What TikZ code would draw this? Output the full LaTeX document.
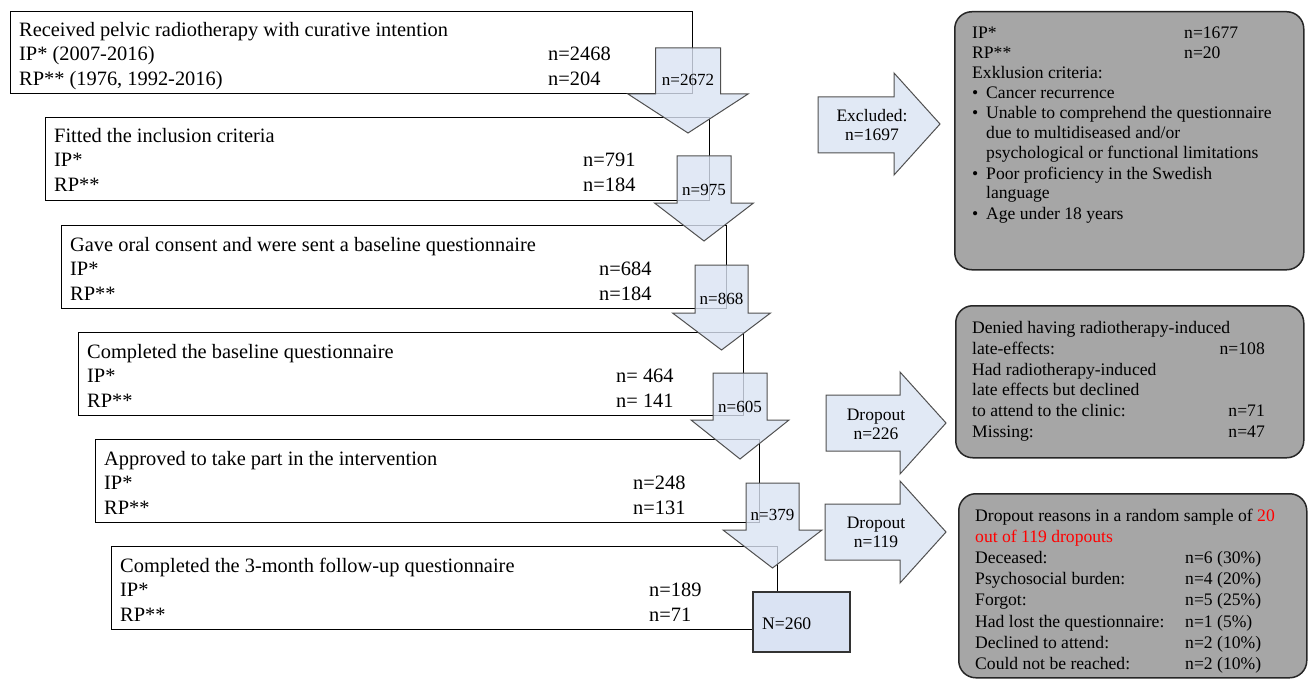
\documentclass[tikz,border=0pt]{standalone}
\usepackage{fontspec}
\setmainfont{Liberation Serif}
\definecolor{abl}{HTML}{DAE3F3}
\definecolor{gbox}{HTML}{A6A6A6}
\definecolor{aedge}{HTML}{505050}
\definecolor{redtxt}{HTML}{FF0000}
\tikzset{
  flowbox/.style={draw=black, line width=1.2pt, fill=white, inner sep=0pt, anchor=north west},
  nbox/.style={draw=black!80, line width=1.5pt, fill=abl, inner sep=0pt, anchor=north west},
  blockarrow/.style={draw=aedge, line width=1pt, fill=abl, fill opacity=0.8, line join=miter},
  greybox/.style={draw=black!85, line width=1.5pt, fill=gbox, rounded corners=17pt, inner sep=0pt, anchor=north west},
  ltxt/.style={anchor=base west, inner sep=0pt, font=\fontsize{20.4}{24}\selectfont},
  rtxt/.style={anchor=base west, inner sep=0pt, font=\fontsize{17.6}{20}\selectfont},
  rtxtr/.style={anchor=base east, inner sep=0pt, font=\fontsize{17.6}{20}\selectfont},
  alab/.style={anchor=base, inner sep=0pt, font=\fontsize{17}{19}\selectfont},
  rlab/.style={align=center, inner sep=0pt, font=\fontsize{17.5}{19}\selectfont},
}
% down block arrow: cx, top, base, tip, shaft half width, head half width
\newcommand{\darrow}[6]{%
  \path[blockarrow] (#1-#5,#2) -- (#1+#5,#2) -- (#1+#5,#3) -- (#1+#6,#3) -- (#1,#4)
    -- (#1-#6,#3) -- (#1-#5,#3) -- cycle;}
% right block arrow: shaft left, shaft top, shaft bottom, head base x, head top, head bottom, tip x, centre y
\newcommand{\rarrow}[8]{%
  \path[blockarrow] (#1,#2) -- (#4,#2) -- (#4,#5) -- (#7,#8) -- (#4,#6) -- (#4,#3)
    -- (#1,#3) -- cycle;}
\newcommand{\tline}[5]{\node[#1] (#2) at (#3,#4) {#5};}
\begin{document}
\begin{tikzpicture}[x=1pt,y=-1pt]
\useasboundingbox (0,0) rectangle (1308,679);

% ---------- left column boxes ----------
\node[flowbox, minimum width=682pt, minimum height=82pt] (b1) at (10,11) {};
\node[flowbox, minimum width=664pt, minimum height=83pt] (b2) at (45,117) {};
\node[flowbox, minimum width=665pt, minimum height=83pt] (b3) at (61,225) {};
\node[flowbox, minimum width=665pt, minimum height=83pt] (b4) at (78,332) {};
\node[flowbox, minimum width=664pt, minimum height=83pt] (b5) at (95,439) {};
\node[flowbox, minimum width=666pt, minimum height=83pt] (b6) at (111,546) {};
\node[nbox, minimum width=97pt, minimum height=60pt] (nb) at (752,591) {};
\tline{rtxt}{nbt}{762}{629}{N=260}

% box texts
\tline{ltxt}{b1a}{19}{37}{Received pelvic radiotherapy with curative intention}
\tline{ltxt}{b1b}{19}{61}{IP* (2007-2016)}
\tline{ltxt}{b1c}{19}{86}{RP** (1976, 1992-2016)}
\tline{ltxt}{b1bn}{548}{61}{n=2468}
\tline{ltxt}{b1cn}{548}{86}{n=204}

\tline{ltxt}{b2a}{54}{143}{Fitted the inclusion criteria}
\tline{ltxt}{b2b}{54}{167}{IP*}
\tline{ltxt}{b2c}{54}{192}{RP**}
\tline{ltxt}{b2bn}{583}{167}{n=791}
\tline{ltxt}{b2cn}{583}{192}{n=184}

\tline{ltxt}{b3a}{70}{251}{Gave oral consent and were sent a baseline questionnaire}
\tline{ltxt}{b3b}{70}{275}{IP*}
\tline{ltxt}{b3c}{70}{300}{RP**}
\tline{ltxt}{b3bn}{599}{275}{n=684}
\tline{ltxt}{b3cn}{599}{300}{n=184}

\tline{ltxt}{b4a}{87}{358}{Completed the baseline questionnaire}
\tline{ltxt}{b4b}{87}{382}{IP*}
\tline{ltxt}{b4c}{87}{407}{RP**}
\tline{ltxt}{b4bn}{616}{382}{n= 464}
\tline{ltxt}{b4cn}{616}{407}{n= 141}

\tline{ltxt}{b5a}{104}{465}{Approved to take part in the intervention}
\tline{ltxt}{b5b}{104}{489}{IP*}
\tline{ltxt}{b5c}{104}{514}{RP**}
\tline{ltxt}{b5bn}{633}{489}{n=248}
\tline{ltxt}{b5cn}{633}{514}{n=131}

\tline{ltxt}{b6a}{120}{572}{Completed the 3-month follow-up questionnaire}
\tline{ltxt}{b6b}{120}{596}{IP*}
\tline{ltxt}{b6c}{120}{621}{RP**}
\tline{ltxt}{b6bn}{649}{596}{n=189}
\tline{ltxt}{b6cn}{649}{621}{n=71}

% ---------- down arrows ----------
\darrow{688}{48}{94}{133}{32.5}{60}
\darrow{704}{156}{203}{241}{27}{49.5}
\darrow{721.5}{265}{313}{350}{26.5}{49}
\darrow{740}{373}{420}{459}{27}{49}
\darrow{772.5}{483}{530}{568}{26.5}{49.5}
\tline{alab}{a1}{688}{86}{n=2672}
\tline{alab}{a2}{704}{195}{n=975}
\tline{alab}{a3}{721.5}{304}{n=868}
\tline{alab}{a4}{740}{412}{n=605}
\tline{alab}{a5}{772.5}{520}{n=379}

% ---------- right arrows ----------
\rarrow{818}{97}{153}{894}{73}{175}{940}{124}
\rarrow{826}{395}{451}{900}{372}{474}{946}{423}
\rarrow{825}{504}{560}{900}{481}{583}{946}{532}
\node[rlab] (ex) at (872,125) {Excluded:\\n=1697};
\node[rlab] (d1) at (876,424) {Dropout\\n=226};
\node[rlab] (d2) at (876,532) {Dropout\\n=119};

% ---------- grey boxes ----------
\node[greybox, minimum width=349pt, minimum height=258pt] (g1) at (954,11) {};
\node[greybox, minimum width=348pt, minimum height=152pt] (g2) at (955,305) {};
\node[greybox, minimum width=348pt, minimum height=184pt] (g3) at (958,493) {};

\tline{rtxt}{g1a}{972}{39}{IP*}
\tline{rtxt}{g1an}{1184}{39}{n=1677}
\tline{rtxt}{g1b}{972}{59}{RP**}
\tline{rtxt}{g1bn}{1184}{59}{n=20}
\tline{rtxt}{g1c}{972}{79}{Exklusion criteria:}
\tline{rtxt}{g1d0}{972}{99}{•}
\tline{rtxt}{g1d}{986}{99}{Cancer recurrence}
\tline{rtxt}{g1e0}{972}{119}{•}
\tline{rtxt}{g1e}{986}{119}{Unable to comprehend the questionnaire}
\tline{rtxt}{g1f}{986}{139}{due to multidiseased and/or}
\tline{rtxt}{g1g}{986}{159}{psychological or functional limitations}
\tline{rtxt}{g1h0}{972}{179}{•}
\tline{rtxt}{g1h}{986}{179}{Poor proficiency in the Swedish}
\tline{rtxt}{g1i}{986}{199}{language}
\tline{rtxt}{g1j0}{972}{219}{•}
\tline{rtxt}{g1j}{986}{219}{Age under 18 years}

\tline{rtxt}{g2a}{972}{333}{Denied having radiotherapy-induced}
\tline{rtxt}{g2b}{972}{354}{late-effects:}
\tline{rtxtr}{g2bn}{1265}{354}{n=108}
\tline{rtxt}{g2c}{972}{375}{Had radiotherapy-induced}
\tline{rtxt}{g2d}{972}{395}{late effects but declined}
\tline{rtxt}{g2e}{972}{416}{to attend to the clinic:}
\tline{rtxtr}{g2en}{1265}{416}{n=71}
\tline{rtxt}{g2f}{972}{437}{Missing:}
\tline{rtxtr}{g2fn}{1265}{437}{n=47}

\tline{rtxt}{g3a}{975}{521}{Dropout reasons in a random sample of \textcolor{redtxt}{20}}
\tline{rtxt}{g3b}{975}{542}{\textcolor{redtxt}{out of 119 dropouts}}
\tline{rtxt}{g3c}{975}{563}{Deceased:}
\tline{rtxt}{g3cn}{1185}{563}{n=6 (30\%)}
\tline{rtxt}{g3d}{975}{584}{Psychosocial burden:}
\tline{rtxt}{g3dn}{1185}{584}{n=4 (20\%)}
\tline{rtxt}{g3e}{975}{605}{Forgot:}
\tline{rtxt}{g3en}{1185}{605}{n=5 (25\%)}
\tline{rtxt}{g3f}{975}{627}{Had lost the questionnaire:}
\tline{rtxt}{g3fn}{1185}{627}{n=1 (5\%)}
\tline{rtxt}{g3g}{975}{648}{Declined to attend:}
\tline{rtxt}{g3gn}{1185}{648}{n=2 (10\%)}
\tline{rtxt}{g3h}{975}{669}{Could not be reached:}
\tline{rtxt}{g3hn}{1185}{669}{n=2 (10\%)}
\end{tikzpicture}
\end{document}
